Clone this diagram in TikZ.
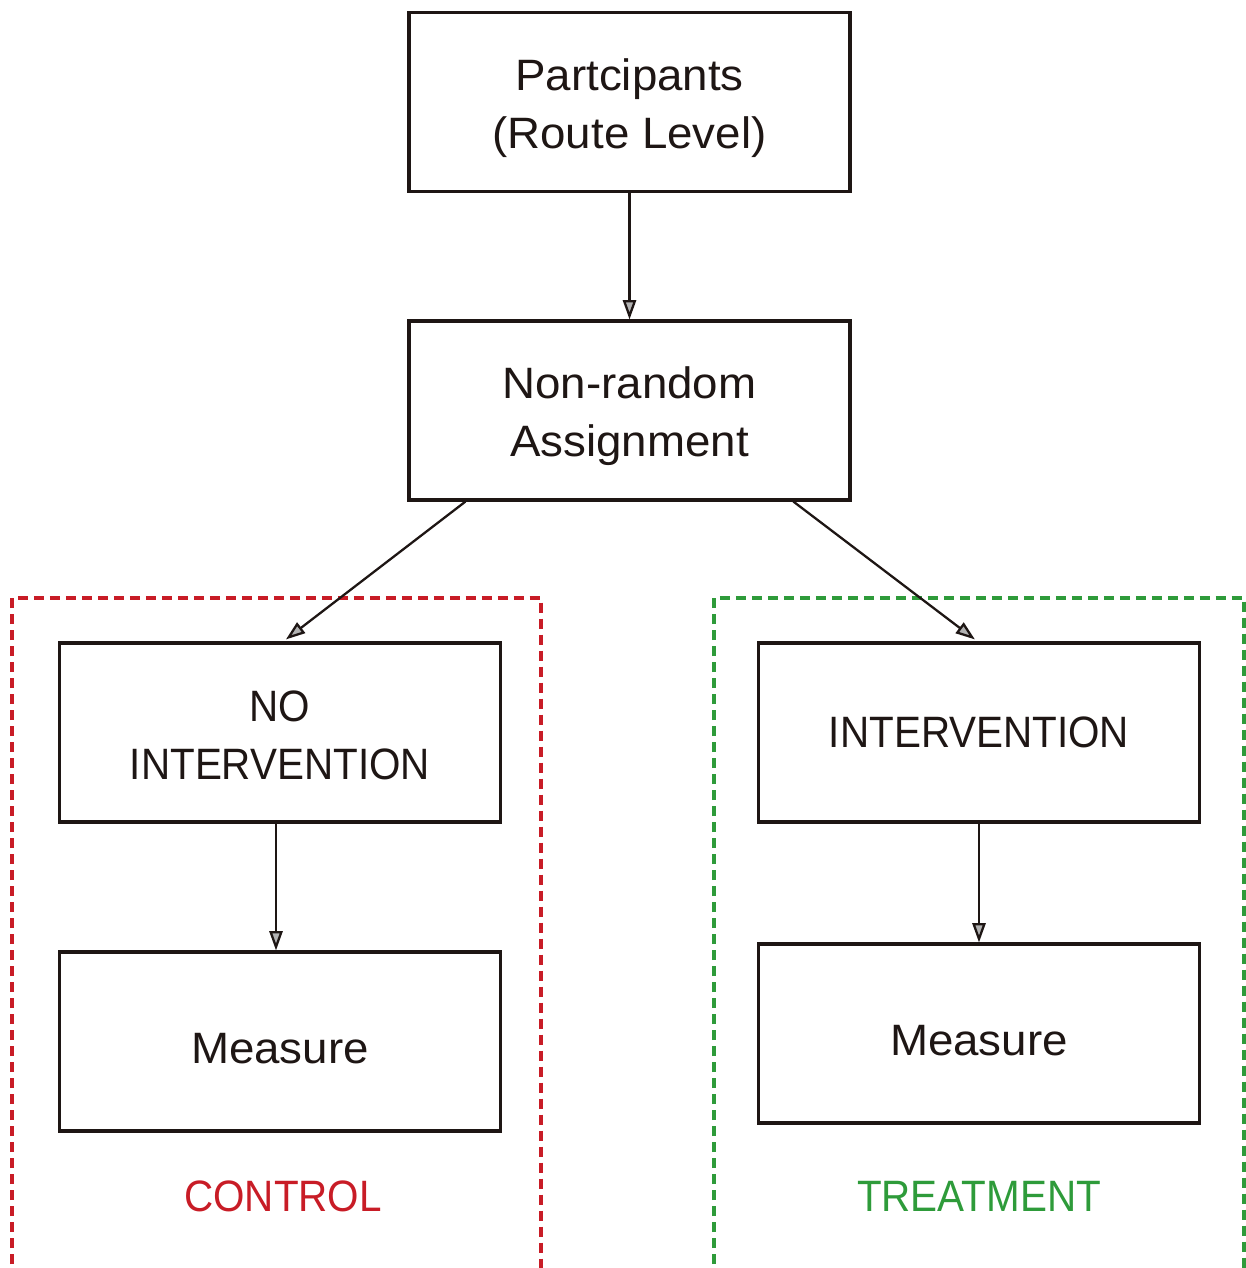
\documentclass[tikz,border=0pt]{standalone}
\usepackage{fontspec}
\setmainfont[FakeStretch=1.04]{Liberation Sans}
\newfontfamily\mycapsfont[FakeStretch=0.92]{Liberation Sans}
\usetikzlibrary{arrows.meta}
\definecolor{ctrlred}{RGB}{200,28,38}
\definecolor{trtgreen}{RGB}{46,155,58}
\definecolor{boxline}{RGB}{30,22,20}
\newcommand\mytopstrut{\rule{0pt}{25pt}}
\tikzset{
  box/.style={draw=boxline, line width=1.8pt, minimum width=8.82cm, minimum height=3.58cm,
    align=center, inner sep=0pt, font=\fontsize{25}{33}\selectfont, text=boxline},
  capsbox/.style={box, font=\mycapsfont\fontsize{25}{33}\selectfont},
  conn/.style={draw=boxline, line width=1.3pt, -{Triangle[open, length=11pt, width=7.5pt, fill=gray!60]}},
  grp/.style={line width=2pt, dash pattern=on 0.2cm off 0.12cm},
  lbl/.style={font=\mycapsfont\fontsize{25}{30}\selectfont, inner sep=0pt}
}
\begin{document}
\begin{tikzpicture}[x=0.02cm, y=-0.02cm]
\useasboundingbox (0,0) rectangle (1246,1268);
% groups
\draw[grp, draw=ctrlred] (12,1280) -- (12,598) -- (541,598) -- (541,1280);
\draw[grp, draw=trtgreen] (714,1280) -- (714,598) -- (1244,598) -- (1244,1280);
% boxes
\node[box] (part) at (629.5,102) {\mytopstrut Partcipants\\(Route Level)};
\node[box] (nr) at (629.5,410.5) {\mytopstrut Non-random\\Assignment};
\node[capsbox] (noint) at (280,732.5) {\rule{0pt}{20.5pt}NO\\INTERVENTION};
\node[box] (meas1) at (280,1041.5) {\mytopstrut Measure};
\node[capsbox] (int) at (979,732.5) {INTERVENTION};
\node[box] (meas2) at (979,1033.5) {\mytopstrut Measure};
% labels
\node[lbl, text=ctrlred] (ctrl) at (283,1196) {CONTROL};
\node[lbl, text=trtgreen] (trt) at (979,1196) {TREATMENT};
% connectors
\draw[conn] (part.south) -- (nr.north);
\draw[conn] ([xshift=1.16cm]nr.south west) -- ([xshift=4.56cm, yshift=0.04cm]noint.north west);
\draw[conn] ([xshift=7.72cm]nr.south west) -- ([xshift=4.36cm, yshift=0.04cm]int.north west);
\draw[conn] ([xshift=-0.08cm]noint.south) -- ([xshift=-0.08cm]meas1.north);
\draw[conn] (int.south) -- (meas2.north);
\end{tikzpicture}
\end{document}
